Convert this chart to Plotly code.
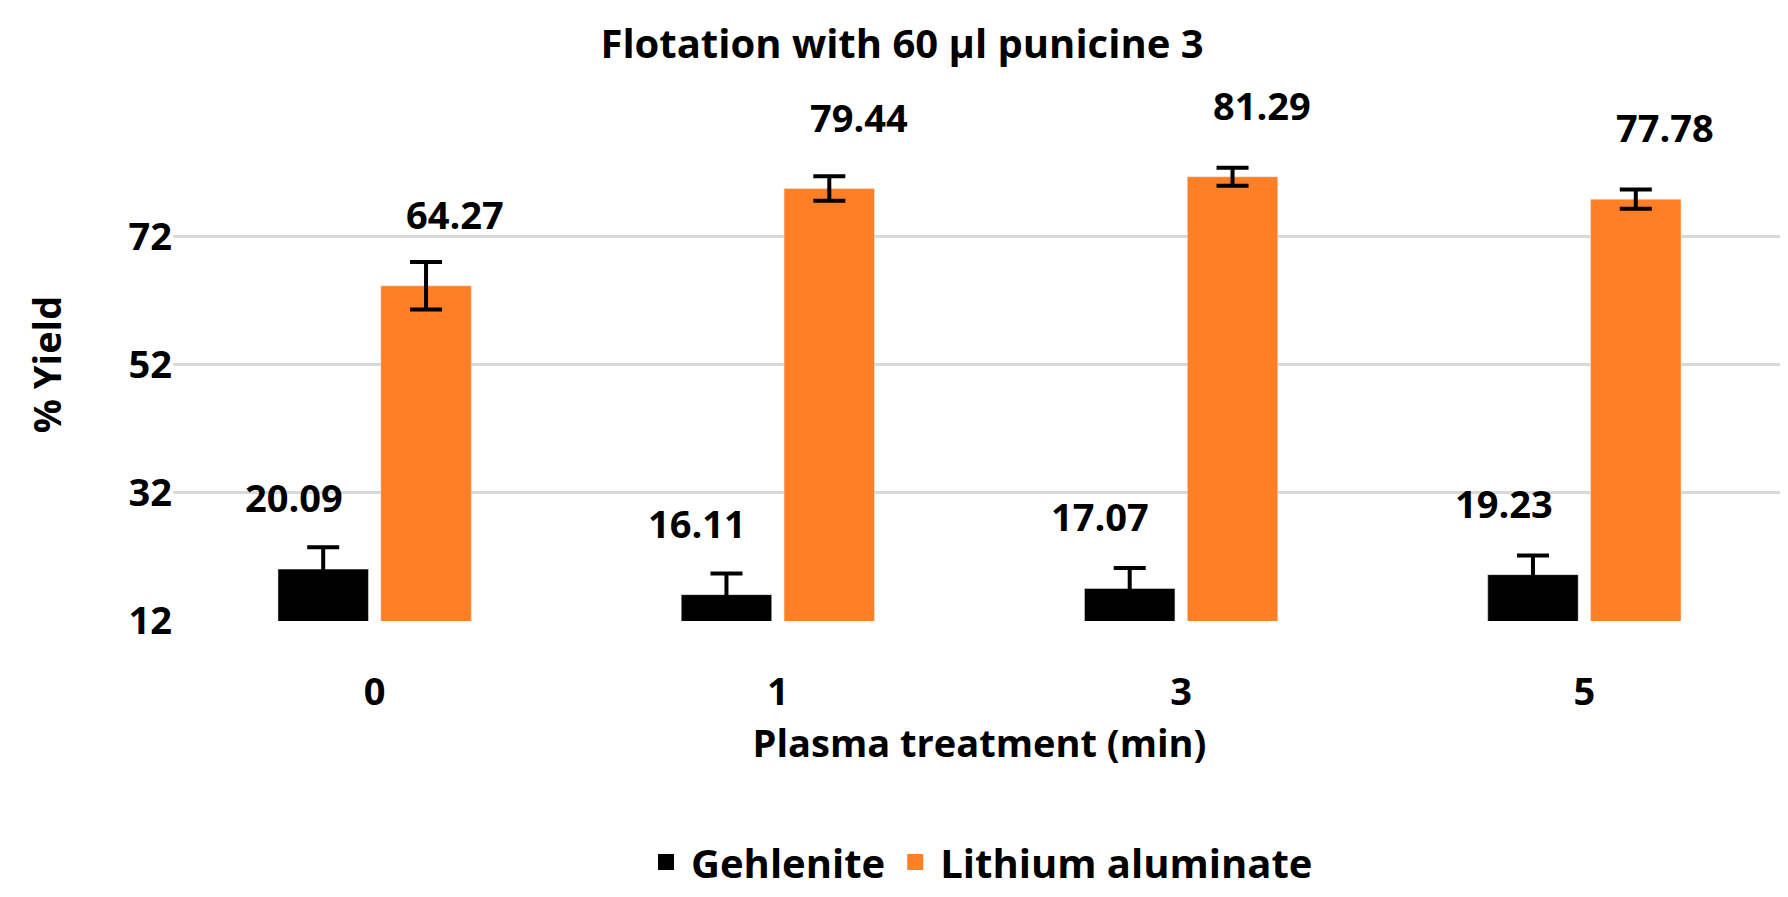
import plotly.graph_objects as go

categories = ["0", "1", "3", "5"]
gehlenite = [20.09, 16.11, 17.07, 19.23]
gehlenite_err = [3.4, 3.3, 3.2, 3.0]
lithium = [64.27, 79.44, 81.29, 77.78]
lithium_err = [3.7, 1.9, 1.4, 1.5]
y_ticks = [12, 32, 52, 72]

font = "Open Sans"
colors = {"Gehlenite": "black", "Lithium aluminate": "#FF7F27"}
fig = go.Figure()
fig.add_trace(go.Bar(name="Gehlenite", x=categories, y=gehlenite,
                     marker_color=colors["Gehlenite"], showlegend=False,
                     error_y=dict(type="data", array=gehlenite_err, symmetric=True,
                                  color="black", thickness=4, width=16)))
fig.add_trace(go.Bar(name="Lithium aluminate", x=categories, y=lithium,
                     marker_color=colors["Lithium aluminate"], showlegend=False,
                     error_y=dict(type="data", array=lithium_err, symmetric=True,
                                  color="black", thickness=4, width=16)))

# legend entries with bigger square symbols
for name, col in colors.items():
    fig.add_trace(go.Scatter(x=[None], y=[None], mode="markers", name=name,
                             marker=dict(symbol="square", size=34, color=col)))

# value labels above bars (Excel style)
for i, c in enumerate(categories):
    for val, off in ((gehlenite[i], -0.2), (lithium[i], 0.2)):
        fig.add_annotation(x=i + off, y=val, text=f"<b>{val:.2f}</b>", showarrow=False,
                           yanchor="bottom", yshift=44, xref="x", yref="y",
                           font=dict(family=font, size=38, color="black"))

fig.update_layout(
    width=1788, height=897,
    title=dict(text="<b>Flotation with 60 µl punicine 3</b>", x=0.5, y=0.975,
               font=dict(family=font, size=40, color="black")),
    plot_bgcolor="white", paper_bgcolor="white",
    barmode="group", bargap=0.49, bargroupgap=0.12,
    margin=dict(l=165, r=10, t=100, b=247),
    showlegend=True,
    legend=dict(orientation="h", x=0.5, xanchor="center", y=-0.47, yanchor="middle",
                font=dict(family=font, size=40, color="black"), itemwidth=40),
    font=dict(family=font, color="black"),
)
fig.update_xaxes(type="category", tickfont=dict(family=font, size=38),
                 title=dict(text="<b>Plasma treatment (min)</b>",
                            font=dict(family=font, size=38), standoff=10),
                 tickprefix="<b>", ticksuffix="</b>", showline=False,
                 ticklabelstandoff=45)
fig.update_yaxes(range=[12, 92], tickvals=y_ticks, ticktext=[f"<b>{t}</b>" for t in y_ticks],
                 tickfont=dict(family=font, size=38),
                 title=dict(text="<b>% Yield</b>", font=dict(family=font, size=38), standoff=55),
                 showgrid=True, gridcolor="#D9D9D9", gridwidth=3, zeroline=False)

for tr in fig.data[2:]:
    tr.name = f"<b>{tr.name}</b>"

fig.write_html("out.html")
